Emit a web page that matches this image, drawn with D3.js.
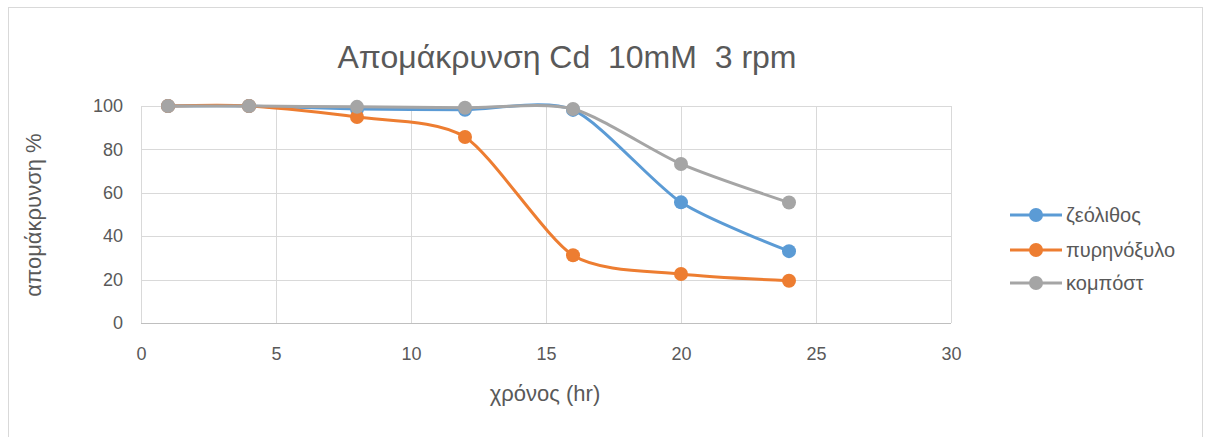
<!DOCTYPE html>
<html>
<head>
<meta charset="utf-8">
<script src="https://cdn.jsdelivr.net/npm/d3@7/dist/d3.min.js"></script>
<style>
  html, body { margin: 0; padding: 0; background: #fff; }
  svg { display: block; }
  text { font-family: "Liberation Sans", "DejaVu Sans", sans-serif; white-space: pre; }
</style>
</head>
<body>
<svg id="chart" width="1211" height="437"></svg>
<script>
// Sampling times (hours)
const hours = [1, 4, 8, 12, 16, 20, 24];

// Removal percentage per sorbent
const zeolite = [100, 100, 98.6, 98.3, 98.2, 55.6, 33.1];
const oliveWood = [100, 100, 94.9, 85.7, 31.2, 22.6, 19.5];
const compost = [100, 100, 99.6, 99.2, 98.6, 73.3, 55.5];

const seriesNames = ["ζεόλιθος", "πυρηνόξυλο", "κομπόστ"];
const seriesColors = ["#5B9BD5", "#ED7D31", "#A5A5A5"];

const xTicks = [0, 5, 10, 15, 20, 25, 30];
const yTicks = [0, 20, 40, 60, 80, 100];

const titleText = "Απομάκρυνση Cd  10mM  3 rpm";
const xTitle = "χρόνος (hr)";
const yTitle = "απομάκρυνση %";

const series = [zeolite, oliveWood, compost].map((vals, i) => ({
  name: seriesNames[i],
  color: seriesColors[i],
  points: hours.map((h, j) => ({ x: h, y: vals[j] }))
}));

const svg = d3.select("#chart");

// Chart frame
svg.append("rect")
  .attr("x", 8.5).attr("y", 7.5)
  .attr("width", 1194).attr("height", 440)
  .attr("fill", "#fff").attr("stroke", "#d9d9d9").attr("stroke-width", 1);

const x = d3.scaleLinear().domain([0, 30]).range([141, 951]);
const y = d3.scaleLinear().domain([0, 100]).range([323, 106]);

// Gridlines
const grid = svg.append("g");
grid.selectAll("line.h").data(yTicks).join("line")
  .attr("x1", x(0)).attr("x2", x(30))
  .attr("y1", d => Math.round(y(d)) + 0.5).attr("y2", d => Math.round(y(d)) + 0.5)
  .attr("stroke", d => d === 0 ? "#bfbfbf" : "#d9d9d9").attr("stroke-width", 1);
grid.selectAll("line.v").data(xTicks).join("line")
  .attr("y1", y(0)).attr("y2", y(100))
  .attr("x1", d => Math.round(x(d)) + 0.5).attr("x2", d => Math.round(x(d)) + 0.5)
  .attr("stroke", "#d9d9d9").attr("stroke-width", 1);

// Axes (labels only; lines come from the grid)
const xAxis = svg.append("g").attr("transform", `translate(0,${y(0)})`)
  .call(d3.axisBottom(x).tickValues(xTicks).tickSize(0).tickPadding(24));
const yAxis = svg.append("g").attr("transform", `translate(${x(0)},0)`)
  .call(d3.axisLeft(y).tickValues(yTicks).tickSize(0).tickPadding(18));
[xAxis, yAxis].forEach(a => {
  a.select(".domain").remove();
  a.selectAll("text")
    .attr("fill", "#595959")
    .style("font-size", "18px")
    .style("font-family", "'Liberation Sans', sans-serif");
});

// Series lines (smoothed) and markers
const line = d3.line()
  .x(d => x(d.x)).y(d => y(d.y))
  .curve(d3.curveCardinal.tension(0.25));

const plot = svg.append("g");
series.forEach(s => {
  plot.append("path")
    .attr("d", line(s.points))
    .attr("fill", "none")
    .attr("stroke", s.color)
    .attr("stroke-width", 3)
    .attr("stroke-linecap", "round");
  plot.selectAll(null).data(s.points).join("circle")
    .attr("cx", d => x(d.x)).attr("cy", d => y(d.y))
    .attr("r", 7)
    .attr("fill", s.color);
});

// Title
svg.append("text")
  .attr("x", 567).attr("y", 68)
  .attr("text-anchor", "middle")
  .attr("fill", "#595959")
  .style("font-size", "32px")
  .text(titleText);

// Axis titles
svg.append("text")
  .attr("x", 545).attr("y", 401)
  .attr("text-anchor", "middle")
  .attr("fill", "#595959")
  .style("font-size", "22px")
  .text(xTitle);

svg.append("text")
  .attr("transform", `translate(41,${215}) rotate(-90)`)
  .attr("text-anchor", "middle")
  .attr("fill", "#595959")
  .style("font-size", "22px")
  .text(yTitle);

// Legend
const legend = svg.append("g");
const legendRows = [215, 250, 283];
series.forEach((s, i) => {
  const g = legend.append("g").attr("transform", `translate(0,${legendRows[i]})`);
  g.append("line").attr("x1", 1010).attr("x2", 1062).attr("y1", 0).attr("y2", 0)
    .attr("stroke", s.color).attr("stroke-width", 3);
  g.append("circle").attr("cx", 1036).attr("cy", 0).attr("r", 7).attr("fill", s.color);
  g.append("text").attr("x", 1066).attr("y", 0).attr("dy", "0.35em")
    .attr("fill", "#595959").style("font-size", "20px").text(s.name);
});
</script>
</body>
</html>
